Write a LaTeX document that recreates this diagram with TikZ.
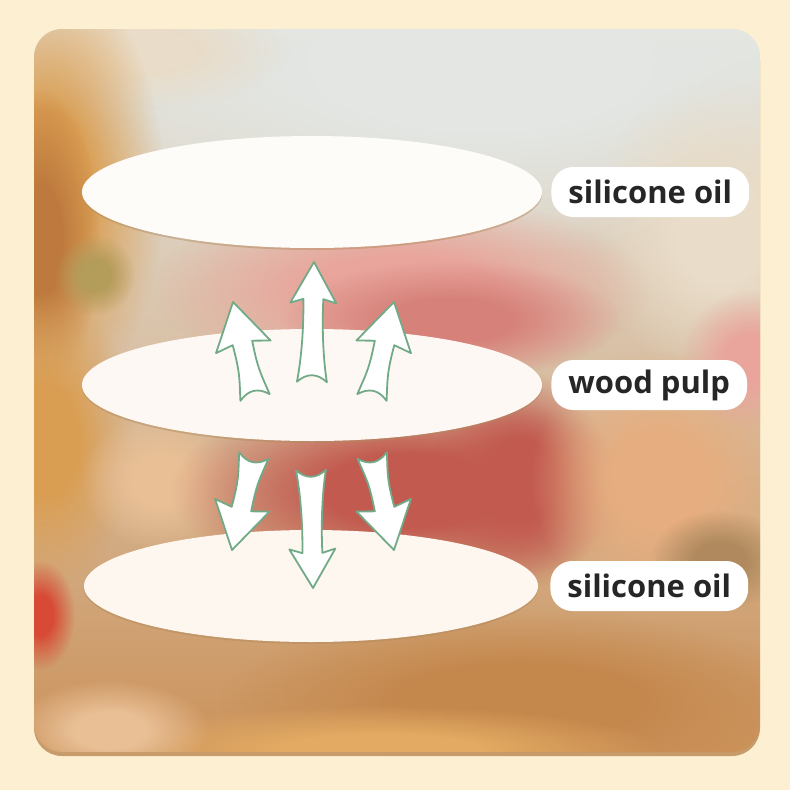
\documentclass[tikz,border=0pt]{standalone}
\usepackage{fontspec}
\setmainfont{Open Sans}
\usetikzlibrary{positioning, shapes.geometric, fadings}
\definecolor{page}{HTML}{FDF0D2}
\definecolor{sheet}{HTML}{FDF7EF}
\definecolor{ink}{HTML}{262626}
\definecolor{leaf}{HTML}{72AA88}
\definecolor{mist}{HTML}{E3E6E2}
\definecolor{cream}{HTML}{E9DCC8}
\definecolor{amber}{HTML}{DA9E52}
\definecolor{rust}{HTML}{BE7A3E}
\definecolor{olive}{HTML}{B49C5A}
\definecolor{blush}{HTML}{E9A59C}
\definecolor{rose}{HTML}{D6827A}
\definecolor{brick}{HTML}{C25A50}
\definecolor{peach}{HTML}{E6AE80}
\definecolor{sand}{HTML}{E9C096}
\definecolor{scarlet}{HTML}{D84A35}
\definecolor{umber}{HTML}{B08A5E}
\definecolor{toffee}{HTML}{C4874C}
\definecolor{honey}{HTML}{E2AA62}
\definecolor{edge}{HTML}{C79C6A}

% soft blob for the blurred photo behind the panel
\pgfdeclareradialshading{blobshade}{\pgfpointorigin}{color(0bp)=(pgftransparent!0); color(9bp)=(pgftransparent!0); color(25bp)=(pgftransparent!100); color(50bp)=(pgftransparent!100)}
\pgfdeclarefading{blob}{\pgfuseshading{blobshade}}

\begin{document}
\begin{tikzpicture}[x=1pt, y=-1pt,
    layer/.style={ellipse, fill=sheet, inner sep=0pt,
                  minimum width=460pt, minimum height=112pt,
                  preaction={fill=umber, fill opacity=.45,
                             transform canvas={yshift=-2pt}}},
    tag/.style={fill=white, rounded corners=22pt, minimum height=50pt,
                inner xsep=17pt, text=ink,
                font=\bfseries\fontsize{31}{36}\selectfont},
    pics/flux/.style n args={3}{code={
      \filldraw[fill=white, draw=leaf, line width=1.8pt, line join=round]
        (0,0) -- (#2,#3) -- (10,{#3-4})
        .. controls (9,{#3+25}) and (11,{#1-22}) .. (15,#1)
        .. controls (5,{#1-9}) and (-5,{#1-9}) .. (-15,#1)
        .. controls (-11,{#1-22}) and (-9,{#3+25}) .. (-10,{#3-4})
        -- (-#2,#3) -- cycle;}}]
  \useasboundingbox (0,0) rectangle (790,790);
  \fill[page] (0,0) rectangle (790,790);

  % panel
  \fill[edge, rounded corners=28pt] (34,33) rectangle (760,756);
  \begin{scope}
    \clip[rounded corners=28pt] (34,29) rectangle (760,752);
    \shade[top color=mist, bottom color=toffee!80!sand]
      (34,29) rectangle (760,752);
    \foreach \cx/\cy/\rx/\ry/\col in {
        480/60/480/200/mist, 720/230/130/150/cream, 140/50/150/60/cream,
        45/190/120/220/amber, 40/240/60/150/rust, 95/275/40/40/olive,
        45/440/90/150/amber, 160/480/80/70/sand, 400/290/250/95/blush,
        450/320/170/60/rose, 410/490/240/100/brick, 520/480/90/110/brick,
        660/480/130/130/peach, 750/360/70/70/blush, 720/560/70/50/umber,
        40/615/35/55/scarlet, 520/700/300/90/toffee, 380/750/280/45/honey,
        110/730/100/50/sand}
      \fill[\col, path fading=blob]
        (\cx,\cy) ellipse [x radius=\rx, y radius=\ry];
  \end{scope}

  % the three layers
  \node[layer, fill=white!60!sheet] (oilTop) at (312,192) {};
  \node[layer, fill=white!40!sheet!97!pink] (pulp) at (312,385) {};
  \node[layer, minimum width=454pt] (oilBot) at (311,586) {};

  \node[tag, right=9pt of oilTop] (tagTop) {silicone oil};
  \node[tag, right=9pt of pulp] (tagPulp) {wood pulp};
  \node[tag, right=12pt of oilBot] (tagBot) {silicone oil};

  % outward arrows
  \pic[rotate=13] at (233,302) {flux={98}{28}{46}};
  \pic[rotate=-1] at (314,262) {flux={120}{23}{41}};
  \pic[rotate=-13] at (394,302) {flux={98}{28}{46}};
  \pic[rotate=167] at (232,550) {flux={97}{28}{46}};
  \pic[rotate=181] at (313,588) {flux={118}{23}{39}};
  \pic[rotate=193] at (394,550) {flux={97}{28}{46}};
\end{tikzpicture}
\end{document}
